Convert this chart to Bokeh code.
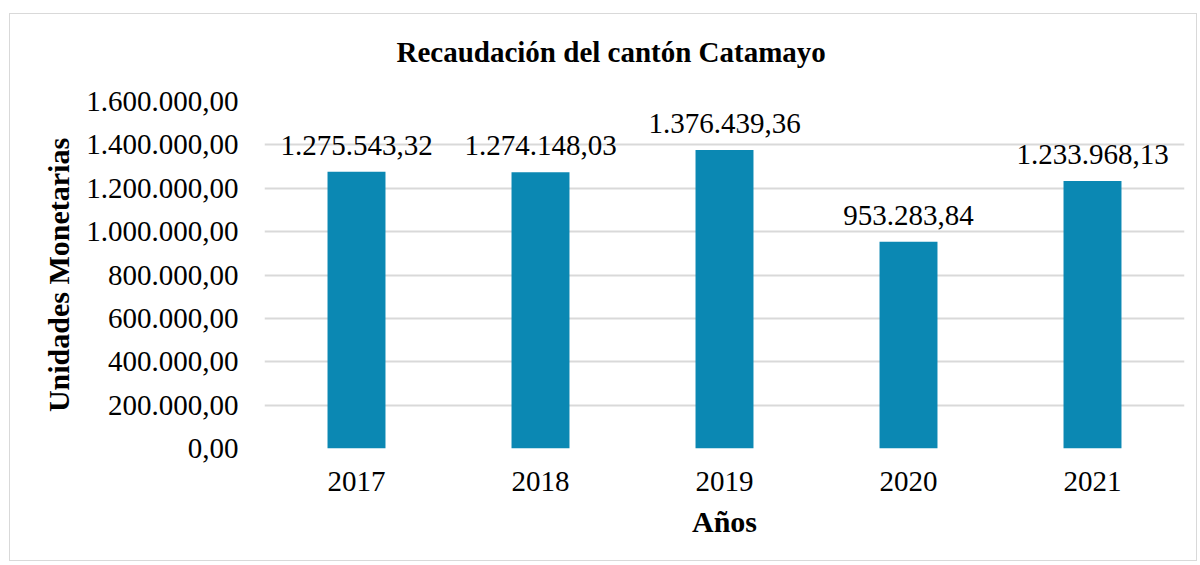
from bokeh.plotting import figure
from bokeh.models import ColumnDataSource, Range1d, FixedTicker, LabelSet, Title
from bokeh.embed import file_html
from bokeh.resources import INLINE

years = ["2017", "2018", "2019", "2020", "2021"]
values = [1275543.32, 1274148.03, 1376439.36, 953283.84, 1233968.13]
y_ticks = [0, 200000, 400000, 600000, 800000, 1000000, 1200000, 1400000, 1600000]
title_text = "Recaudación del cantón Catamayo"

def fmt(v):
    s = f"{v:,.2f}"
    return s.replace(",", "X").replace(".", ",").replace("X", ".")

FONT = "'Liberation Serif', 'Times New Roman', serif"
BAR = "#0b88b3"
GRID = "#d9d9d9"

src = ColumnDataSource(dict(x=years, top=values, label=[fmt(v) for v in values]))

p = figure(x_range=years, y_range=Range1d(0, 1600000), width=1188, height=548,
           output_backend="svg", toolbar_location=None,
           min_border_left=254, min_border_right=14, min_border_top=87, min_border_bottom=114)
p.margin = (13, 0, 0, 9)
p.styles = {"border": "1px solid #d9d9d9"}
p.outline_line_color = None
p.x_range.range_padding = 0
p.title.text = ""
p.title.standoff = 0
p.title.visible = False

spacer = Title(text=" ", text_font_size="2px", standoff=12)
p.add_layout(spacer, "above")
main_title = Title(text=title_text, align="left", offset=132, standoff=35,
                   vertical_align="bottom", text_font=FONT, text_font_size="29px",
                   text_font_style="bold", text_color="#000000")
p.add_layout(main_title, "above")

p.vbar(x="x", top="top", width=0.315, source=src, fill_color=BAR, line_color=None)

labels = LabelSet(x="x", y="top", text="label", source=src, text_align="center",
                  text_baseline="bottom", y_offset=17, text_font=FONT,
                  text_font_size="29px", text_color="#000000")
p.add_layout(labels)

p.yaxis.ticker = FixedTicker(ticks=y_ticks)
p.yaxis.major_label_overrides = {t: fmt(t) for t in y_ticks}
for ax in (p.xaxis[0], p.yaxis[0]):
    ax.axis_line_color = None
    ax.major_tick_line_color = None
    ax.minor_tick_line_color = None
    ax.major_label_text_font = FONT
    ax.major_label_text_font_size = "29px"
    ax.major_label_text_color = "#000000"
    ax.axis_label_text_font = FONT
    ax.axis_label_text_font_style = "bold"
    ax.axis_label_text_font_size = "30px"
    ax.axis_label_text_color = "#000000"

p.yaxis.axis_label = "Unidades Monetarias"
p.yaxis.major_label_standoff = 20
p.yaxis.axis_label_standoff = 8
p.xaxis.axis_label = "Años"
p.xaxis.major_label_standoff = 17
p.xaxis.axis_label_standoff = 11

p.xgrid.grid_line_color = None
p.ygrid.grid_line_color = GRID
p.ygrid.grid_line_width = 2

open("out.html", "w").write(file_html(p, INLINE))
